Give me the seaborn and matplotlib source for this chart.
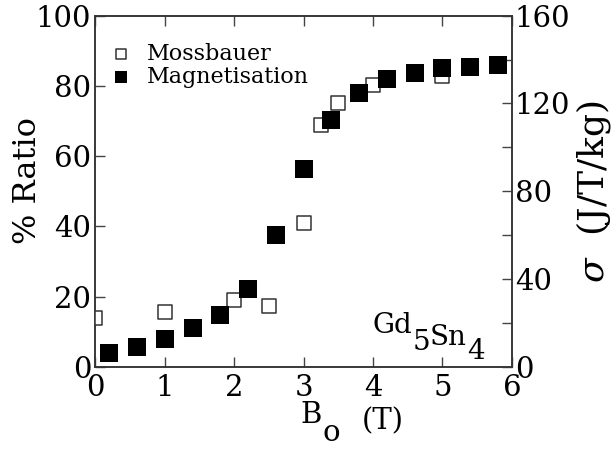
import matplotlib
matplotlib.use("Agg")
import matplotlib.pyplot as plt
import seaborn as sns
import pandas as pd

# Mossbauer: percentage ratio vs applied field
moss_field = [0.0, 1.0, 2.0, 2.5, 3.0, 3.25, 3.5, 4.0, 5.0]
moss_ratio = [13.8, 15.6, 19.0, 17.2, 41.0, 68.9, 75.1, 80.3, 82.8]

# Magnetisation: sigma (J/T/kg) vs applied field
mag_field = [0.2, 0.6, 1.0, 1.4, 1.8, 2.2, 2.6, 3.0, 3.4, 3.8, 4.2, 4.6, 5.0, 5.4, 5.8]
mag_sigma = [6.1, 9.0, 12.5, 17.6, 23.8, 35.5, 60.0, 90.0, 112.6, 124.6, 131.0, 133.8, 136.0, 136.5, 137.6]

x_ticks = [0, 1, 2, 3, 4, 5, 6]
left_ticks = [0, 20, 40, 60, 80, 100]
right_ticks = [0, 40, 80, 120, 160]
right_minor = [20, 60, 100, 140]

sns.set_style("ticks")
plt.rcParams["font.family"] = ["DejaVu Serif"]
plt.rcParams["mathtext.fontset"] = "dejavuserif"
plt.rcParams["text.color"] = "black"
plt.rcParams["axes.labelcolor"] = "black"
plt.rcParams["xtick.labelcolor"] = "black"
plt.rcParams["ytick.labelcolor"] = "black"

FS = 21

fig = plt.figure(figsize=(6.16, 4.49), dpi=100)
ax = fig.add_axes([0.155, 0.183, 0.676, 0.782])
ax2 = ax.twinx()

moss = pd.DataFrame({"B": moss_field, "ratio": moss_ratio})
mag = pd.DataFrame({"B": mag_field, "sigma": mag_sigma})

sns.scatterplot(data=moss, x="B", y="ratio", ax=ax, marker="s", s=95,
                facecolor="white", edgecolor="#333333", linewidth=1.1,
                label="Mossbauer", legend=False, zorder=3)
sns.scatterplot(data=mag, x="B", y="sigma", ax=ax2, marker="s", s=150,
                color="black", edgecolor="black", linewidth=0,
                label="Magnetisation", legend=False, zorder=3)

ax.set_xlim(0, 6)
ax.set_ylim(0, 100)
ax2.set_ylim(0, 160)

ax.set_xticks(x_ticks)
ax.set_yticks(left_ticks)
ax2.set_yticks(right_ticks)
ax2.set_yticks(right_minor, minor=True)

ax.tick_params(axis="both", direction="in", length=7, width=1, labelsize=FS,
               top=True, right=False, color="#444444", pad=3)
ax.tick_params(axis="x", pad=5)
ax2.tick_params(axis="y", which="major", direction="in", length=7, width=1,
                labelsize=FS, color="#444444", pad=2)
ax2.tick_params(axis="y", which="minor", direction="in", length=7, width=1,
                color="#444444")

for a in (ax, ax2):
    for sp in a.spines.values():
        sp.set_visible(True)
        sp.set_linewidth(1.1)
        sp.set_color("#333333")

ax.set_xlabel("")
ax2.set_xlabel("")
ax.set_ylabel("% Ratio", fontsize=23)
ax.yaxis.set_label_coords(-0.125, 0.53)
ax2.set_ylabel(r"$\sigma$  (J/T/kg)", fontsize=26, rotation=90)
ax2.yaxis.set_label_coords(1.15, 0.5)

# x-axis title: B with a full-size lowered "o", then (T)
tb = fig.text(0.487, 0.058, "B", fontsize=FS, ha="left", va="baseline")
ax.annotate("o", xy=(1, 0), xycoords=tb, xytext=(1, -9),
            textcoords="offset points", fontsize=FS, va="baseline")
ax.annotate("(T)", xy=(1, 0), xycoords=tb, xytext=(29, 0),
            textcoords="offset points", fontsize=FS, va="baseline")

# compound label with lowered digits
t1 = ax.text(0.665, 0.097, "Gd", transform=ax.transAxes, fontsize=20,
             ha="left", va="baseline")
t2 = ax.annotate("5", xy=(1, 0), xycoords=t1, xytext=(0, -8),
                 textcoords="offset points", fontsize=20, va="baseline")
t3 = ax.annotate("Sn", xy=(1, 0), xycoords=t2, xytext=(0, 8),
                 textcoords="offset points", fontsize=20, va="baseline")
ax.annotate("4", xy=(1, 0), xycoords=t3, xytext=(0, -6),
            textcoords="offset points", fontsize=20, va="baseline")

# Legend handles from both axes
h1, l1 = ax.get_legend_handles_labels()
h2, l2 = ax2.get_legend_handles_labels()
leg = ax.legend(h1 + h2, l1 + l2, loc="upper left", frameon=False, fontsize=16,
                bbox_to_anchor=(-0.025, 0.96), handletextpad=0.2, labelspacing=0.05,
                markerscale=0.7, borderaxespad=0.2)

fig.savefig("out.png", dpi=100)
